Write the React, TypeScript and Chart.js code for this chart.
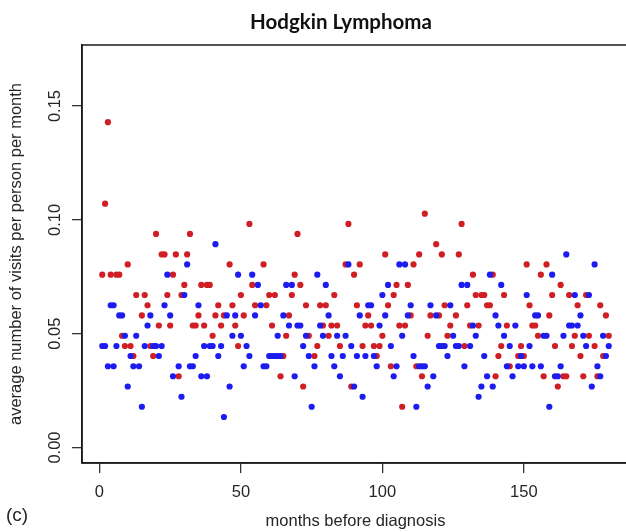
import { useEffect, useRef } from 'react';
import { Chart, registerables } from 'chart.js';

Chart.register(...registerables);

const chartTitle = 'Hodgkin Lymphoma';
const panelLabel = '(c)';
const xAxisTitle = 'months before diagnosis';
const yAxisTitle = 'average number of visits per person per month';
const xTickValues = [0, 50, 100, 150];
const yTickValues = [0, 0.05, 0.1, 0.15];

const redMonths = [
  1, 2, 3, 4, 6, 7, 8, 9, 10, 11, 12, 13, 15, 16, 17, 18, 19, 20, 21, 22, 23, 24, 25, 26, 27, 28, 29, 30,
  31, 32, 33, 34, 35, 36, 37, 38, 39, 40, 41, 42, 43, 44, 46, 47, 48, 49, 50, 51, 53, 54, 55, 58, 59, 60,
  61, 62, 64, 65, 66, 67, 68, 69, 70, 71, 72, 73, 74, 76, 77, 78, 79, 80, 81, 82, 83, 84, 85, 87, 88, 89, 90,
  91, 92, 93, 94, 95, 96, 97, 98, 99, 100, 101, 102, 103, 104, 105, 106, 107, 108, 109, 110, 111, 112, 113,
  114, 115, 116, 117, 119, 120, 121, 122, 123, 124, 126, 127, 128, 129, 130, 131, 132, 133, 134, 135, 136,
  137, 138, 139, 140, 141, 142, 143, 144, 145, 148, 149, 150, 151, 152, 153, 154, 155, 156, 157, 158, 159,
  160, 161, 162, 163, 164, 165, 166, 167, 168, 169, 170, 171, 172, 173, 175, 176, 177, 178, 179, 180,
];
const redValues = [
  0.0759, 0.1071, 0.1429, 0.0759, 0.0759, 0.0759, 0.0491, 0.0446, 0.0804, 0.0446, 0.0402, 0.0670, 0.0580,
  0.0670, 0.0625, 0.0446, 0.0402, 0.0938, 0.0536, 0.0848, 0.0848, 0.0670, 0.0536, 0.0759, 0.0848, 0.0313,
  0.0670, 0.0714,
  0.0848, 0.0938, 0.0536, 0.0536, 0.0580, 0.0714, 0.0536, 0.0714, 0.0714, 0.0491, 0.0580, 0.0625, 0.0536,
  0.0580, 0.0804, 0.0625, 0.0536, 0.0446, 0.0670, 0.0580, 0.0982, 0.0714, 0.0625, 0.0804, 0.0625, 0.0670,
  0.0536, 0.0670, 0.0313, 0.0402, 0.0491, 0.0580, 0.0670, 0.0759, 0.0938, 0.0714, 0.0268, 0.0625, 0.0491,
  0.0402, 0.0446, 0.0625, 0.0536, 0.0625, 0.0491, 0.0536, 0.0670, 0.0536, 0.0446, 0.0804, 0.0982, 0.0268,
  0.0759,
  0.0625, 0.0804, 0.0446, 0.0536, 0.0580, 0.0536, 0.0446, 0.0402, 0.0446, 0.0491, 0.0848, 0.0625, 0.0357,
  0.0670, 0.0714, 0.0536, 0.0179, 0.0536, 0.0714, 0.0580, 0.0804, 0.0357, 0.0848,
  0.0313, 0.1027, 0.0491, 0.0580, 0.0893, 0.0580, 0.0848, 0.0625, 0.0491, 0.0536, 0.0580, 0.0848, 0.0982,
  0.0446, 0.0625, 0.0536, 0.0759, 0.0670, 0.0536, 0.0670, 0.0670,
  0.0625, 0.0625, 0.0759, 0.0313, 0.0402, 0.0446, 0.0670, 0.0536, 0.0357, 0.0402, 0.0446, 0.0402, 0.0804,
  0.0625, 0.0536, 0.0536, 0.0491, 0.0759, 0.0313, 0.0804, 0.0580,
  0.0670, 0.0446, 0.0268, 0.0714, 0.0313, 0.0313, 0.0670, 0.0446, 0.0491, 0.0625, 0.0402, 0.0313, 0.0670,
  0.0491, 0.0446, 0.0313, 0.0625, 0.0402, 0.0580, 0.0491,
];

const blueMonths = [
  1, 2, 3, 4, 5, 5, 6, 7, 8, 9, 10, 11, 12, 13, 14, 15, 16, 17, 18, 19, 20, 21, 22, 23, 24, 25, 26, 28, 29, 30,
  31, 32, 33, 34, 35, 36, 37, 38, 39, 40, 41, 42, 43, 44, 45, 46, 47, 48, 49, 50, 51, 52, 53, 54, 55, 56, 57,
  58, 59, 60,
  61, 62, 63, 63, 64, 65, 66, 67, 68, 69, 70, 71, 72, 73, 74, 75, 76, 77, 78, 79, 80, 81, 82, 83, 84, 85, 86,
  87, 88, 89, 90,
  91, 92, 93, 94, 95, 96, 97, 98, 99, 100, 101, 102, 103, 104, 105, 106, 107, 108, 109, 110, 111, 112, 113,
  114, 115, 116, 117, 118, 119, 120,
  121, 122, 123, 124, 125, 126, 127, 128, 129, 130, 131, 132, 133, 134, 135, 136, 137, 138, 139, 140, 141,
  142, 143, 144, 145, 146, 147, 148, 149, 150,
  151, 152, 153, 154, 155, 156, 157, 158, 159, 160, 161, 162, 163, 164, 165, 166, 167, 168, 169, 170, 171,
  172, 173, 174, 175, 176, 177, 178, 179, 180,
];
const blueValues = [
  0.0446, 0.0446, 0.0357, 0.0625, 0.0625, 0.0357, 0.0446, 0.0580, 0.0580, 0.0491, 0.0268, 0.0402, 0.0357,
  0.0491, 0.0357, 0.0179, 0.0446, 0.0536, 0.0580, 0.0446, 0.0446, 0.0402, 0.0446, 0.0625, 0.0759, 0.0580,
  0.0313, 0.0357, 0.0223, 0.0670,
  0.0804, 0.0357, 0.0357, 0.0402, 0.0625, 0.0313, 0.0446, 0.0313, 0.0446, 0.0446, 0.0893, 0.0402, 0.0446,
  0.0134, 0.0580, 0.0268, 0.0491, 0.0580, 0.0759, 0.0491, 0.0357, 0.0446, 0.0402, 0.0759, 0.0580, 0.0714,
  0.0625, 0.0357, 0.0357, 0.0402,
  0.0402, 0.0402, 0.0402, 0.0491, 0.0402, 0.0580, 0.0714, 0.0536, 0.0714, 0.0313, 0.0536, 0.0536, 0.0446,
  0.0491, 0.0402, 0.0179, 0.0357, 0.0759, 0.0536, 0.0491, 0.0714, 0.0580, 0.0402, 0.0357, 0.0491, 0.0313,
  0.0402, 0.0491, 0.0804, 0.0446, 0.0268,
  0.0402, 0.0580, 0.0223, 0.0402, 0.0625, 0.0625, 0.0402, 0.0357, 0.0536, 0.0670, 0.0580, 0.0714, 0.0446,
  0.0313, 0.0357, 0.0804, 0.0491, 0.0804, 0.0580, 0.0625, 0.0402, 0.0179, 0.0357, 0.0357, 0.0357, 0.0268,
  0.0625, 0.0313, 0.0580, 0.0446,
  0.0446, 0.0446, 0.0402, 0.0625, 0.0491, 0.0446, 0.0446, 0.0714, 0.0357, 0.0714, 0.0446, 0.0536, 0.0491,
  0.0223, 0.0268, 0.0402, 0.0313, 0.0759, 0.0268, 0.0580, 0.0536, 0.0714, 0.0491, 0.0357, 0.0446, 0.0313,
  0.0536, 0.0357, 0.0402, 0.0357,
  0.0670, 0.0446, 0.0357, 0.0580, 0.0580, 0.0357, 0.0491, 0.0491, 0.0179, 0.0759, 0.0313, 0.0313, 0.0357,
  0.0491, 0.0848, 0.0536, 0.0536, 0.0670, 0.0536, 0.0580, 0.0491, 0.0446, 0.0670, 0.0268, 0.0804, 0.0357,
  0.0313, 0.0491, 0.0402, 0.0446,
];

const RED = '#cf1f24';
const BLUE = '#1c1cf0';
const INK = '#262626';
const FONT = '"Liberation Sans", Arial, sans-serif';

function toPoints(xs: number[], ys: number[]) {
  return xs.map((x, i) => ({ x, y: ys[i] }));
}

const framePlugin = {
  id: 'frameAndTitle',
  afterDraw(chart: any) {
    const { ctx, chartArea } = chart;
    ctx.save();
    ctx.strokeStyle = '#1a1a1a';
    ctx.lineWidth = 1.5;
    ctx.strokeRect(chartArea.left, chartArea.top, chartArea.right - chartArea.left, chartArea.bottom - chartArea.top);
    ctx.fillStyle = '#111';
    ctx.font = 'bold 20.5px Lato, "Open Sans", sans-serif';
    ctx.textAlign = 'center';
    ctx.textBaseline = 'alphabetic';
    ctx.fillText(chartTitle, 341, 29);
    ctx.fillStyle = INK;
    ctx.font = `19px ${FONT}`;
    ctx.textAlign = 'left';
    ctx.fillText(panelLabel, 6, 521);
    ctx.restore();
  },
};

export default function App() {
  const ref = useRef<HTMLCanvasElement | null>(null);
  useEffect(() => {
    if (!ref.current) return;
    const chart = new Chart(ref.current, {
      type: 'scatter',
      data: {
        datasets: [
          {
            label: 'blue',
            data: toPoints(blueMonths, blueValues),
            backgroundColor: BLUE,
            borderWidth: 0,
            pointRadius: 3.1,
            order: 0,
          },
          {
            label: 'red',
            data: toPoints(redMonths, redValues),
            backgroundColor: RED,
            borderWidth: 0,
            pointRadius: 3.1,
            order: 1,
          },
        ],
      },
      options: {
        responsive: false,
        animation: false,
        devicePixelRatio: 1,
        layout: { padding: { top: 45, right: 11, bottom: 0, left: 0 } },
        plugins: { legend: { display: false }, tooltip: { enabled: false }, title: { display: false } },
        scales: {
          x: {
            type: 'linear',
            min: -6.16,
            max: 187.16,
            afterFit: (s: any) => { s.height = 69; },
            afterBuildTicks: (s: any) => { s.ticks = xTickValues.map((v) => ({ value: v })); },
            ticks: {
              includeBounds: false,
              stepSize: 50,
              padding: 10,
              color: INK,
              font: { family: FONT, size: 16.5 },
              maxRotation: 0,
              callback: (v: any) => String(v),
            },
            grid: { drawOnChartArea: false, drawTicks: true, tickLength: 10, color: '#333', lineWidth: 1.3 },
            border: { display: true, color: '#1a1a1a', width: 1.5 },
            title: {
              display: true,
              text: xAxisTitle,
              color: INK,
              font: { family: FONT, size: 16.5 },
              padding: { top: 0, bottom: 1 },
            },
          },
          y: {
            type: 'linear',
            min: -0.0068,
            max: 0.1768,
            afterFit: (s: any) => { s.width = 82; },
            afterBuildTicks: (s: any) => { s.ticks = yTickValues.map((v) => ({ value: v })); },
            ticks: {
              includeBounds: false,
              stepSize: 0.05,
              padding: 0,
              minRotation: 90,
              maxRotation: 90,
              crossAlign: 'center',
              color: INK,
              font: { family: FONT, size: 16.5 },
              callback: (v: any) => Number(v).toFixed(2),
            },
            grid: { drawOnChartArea: false, drawTicks: true, tickLength: 10, color: '#333', lineWidth: 1.3 },
            border: { display: true, color: '#1a1a1a', width: 1.5 },
            title: {
              display: true,
              text: yAxisTitle,
              color: INK,
              font: { family: FONT, size: 16.5 },
              padding: { top: 7, bottom: 0 },
            },
          },
        },
      },
      plugins: [framePlugin],
    });
    return () => chart.destroy();
  }, []);

  return (
    <div style={{ position: 'absolute', left: 0, top: 0, width: 626, height: 532, overflow: 'hidden', background: '#fff' }}>
      <canvas ref={ref} width={640} height={532} style={{ width: 640, height: 532, display: 'block' }} />
    </div>
  );
}
